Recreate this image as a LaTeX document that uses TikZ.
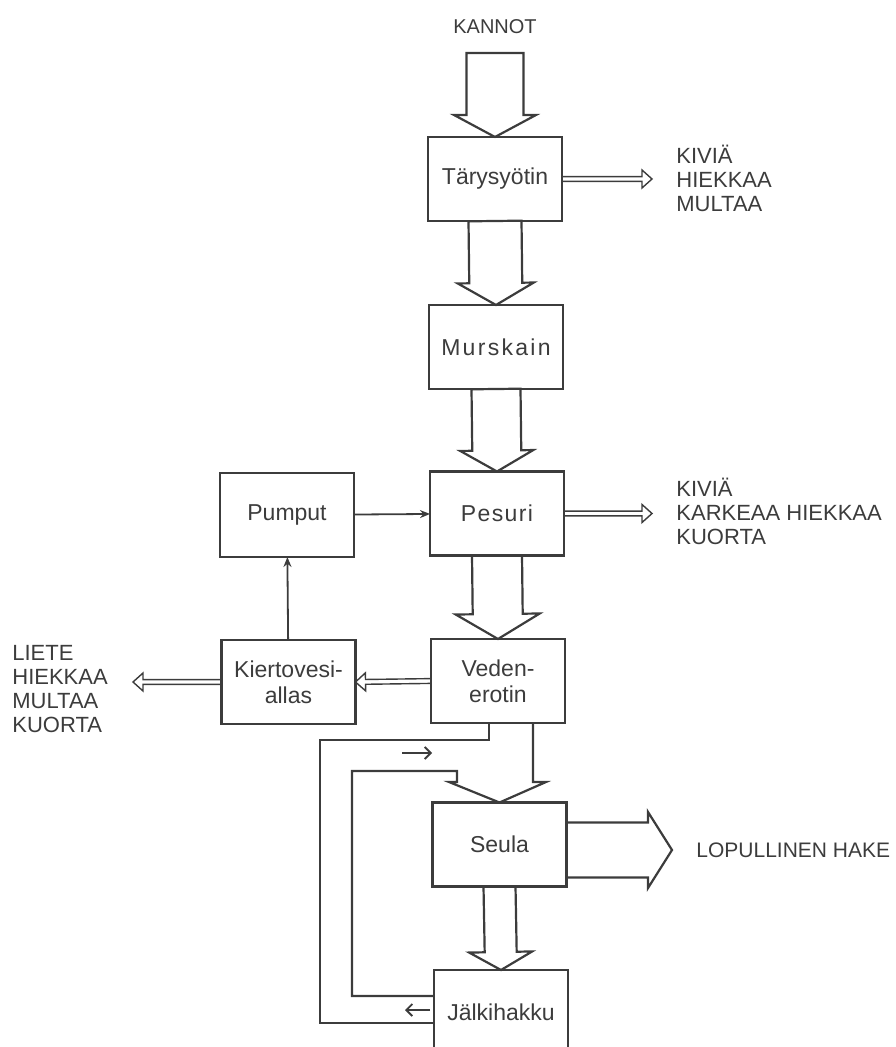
\documentclass[tikz,border=0pt]{standalone}
\usepackage{fontspec}
\setmainfont{Liberation Sans}
\usetikzlibrary{calc,arrows.meta}
\definecolor{ink}{RGB}{60,60,60}
\newcommand{\blockarrow}[6][fat]{%
\coordinate (hb) at ($(#3)!#6!(#2)$);
\draw[#1] ($(#2)!#4!90:(#3)$) -- ($(hb)!#4!90:(#3)$) -- ($(hb)!#5!90:(#3)$) -- (#3) -- ($(hb)!#5!-90:(#3)$) -- ($(hb)!#4!-90:(#3)$) -- ($(#2)!#4!-90:(#3)$) -- cycle;}
\begin{document}
\begin{tikzpicture}[x=0.5pt,y=-0.5pt,
box/.style={draw=ink,line width=1.1pt,minimum width=67pt,minimum height=42pt,inner sep=0pt,outer sep=0pt,text=ink,align=center,font=\fontsize{11.5}{13}\selectfont},
lbl/.style={text=ink,align=left,inner sep=0pt,font=\fontsize{11}{12}\selectfont},
fat/.style={draw=ink,line width=1.1pt,line join=miter},
slim/.style={draw=ink,line width=0.7pt,line join=miter},
line/.style={draw=ink,line width=1.1pt},
flow/.style={draw=ink,line width=0.9pt,-{Stealth[length=5pt,width=4pt]}},
tick/.style={draw=ink,line width=0.9pt,-{Straight Barb[length=3pt,width=6pt]}}]

\useasboundingbox (0,0) rectangle (895,1047);
\clip (0,0) rectangle (895,1047);

\node[box] (tary) at (495,179) {Tärysyötin};
\node[box] (mursk) at (496,347) {\addfontfeature{LetterSpace=10}Murskain};
\node[box] (pesuri) at (497,513.5) {\addfontfeature{LetterSpace=6}Pesuri};
\node[box] (pumput) at (287,515) {Pumput};
\node[box] (veden) at (498,681) {Veden-\\erotin};
\node[box] (kierto) at (288.5,682) {Kiertovesi-\\allas};
\node[box] (seula) at (499.5,844.5) {Seula};
\node[box] (jalki) at (501,1012) {Jälkihakku};

\node[lbl] (kannot) at (495,27) {\fontsize{10}{12}\selectfont KANNOT};
\node[lbl,anchor=west] (jate1) at (676,178) {KIVIÄ\\HIEKKAA\\MULTAA};
\node[lbl,anchor=west] (jate2) at (676,511) {KIVIÄ\\KARKEAA HIEKKAA\\KUORTA};
\node[lbl,anchor=west] (liete) at (12,689) {LIETE\\HIEKKAA\\MULTAA\\KUORTA};
\node[lbl,anchor=west] (hake) at (696,850) {\fontsize{10.5}{12}\selectfont LOPULLINEN HAKE};

\coordinate (feed) at (495,53);
\coordinate (kivet1) at (652,179);
\coordinate (kivet2) at (652,513.5);
\coordinate (lieteend) at (133,682);
\coordinate (hakeend) at (672,850);
\coordinate (hakestart) at (seula.east |- hakeend);
\coordinate (vout1) at ($(veden.south)+(-9,0)$);
\coordinate (vout2) at ($(veden.south)+(35,0)$);

\blockarrow{feed}{tary.north}{14.25pt}{20.5pt}{11pt}
\blockarrow{tary.south}{mursk.north}{13.25pt}{19pt}{11pt}
\blockarrow{mursk.south}{pesuri.north}{12.25pt}{18.25pt}{10.5pt}
\blockarrow{pesuri.south}{veden.north}{12.5pt}{21pt}{12.5pt}
\blockarrow{seula.south}{jalki.north}{8pt}{15.75pt}{9pt}
\blockarrow{hakestart}{hakeend}{13.75pt}{19pt}{12pt}

\blockarrow[slim]{tary.east}{kivet1}{1.2pt}{4.5pt}{5pt}
\blockarrow[slim]{pesuri.east}{kivet2}{1.2pt}{4.5pt}{5pt}
\blockarrow[slim]{veden.west}{kierto.east}{1.2pt}{4.5pt}{5pt}
\blockarrow[slim]{kierto.west}{lieteend}{1.2pt}{4.5pt}{5pt}

\draw[flow] (pumput) -- (pesuri);
\draw[flow] (kierto) -- (pumput);

\draw[line] (vout1) -- ++(0,17) -| (320,1023) -- (320,1023 -| jalki.west);
\draw[line,line join=miter] (352,996 -| jalki.west) -| (352,771) -| (457,782) -- (449,782) -- (seula.north) -- (546,782) -- (533,782) -- (vout2);

\draw[tick] (402,753) -- (432,753);
\draw[tick] (430,1010) -- (405,1010);
\end{tikzpicture}
\end{document}
